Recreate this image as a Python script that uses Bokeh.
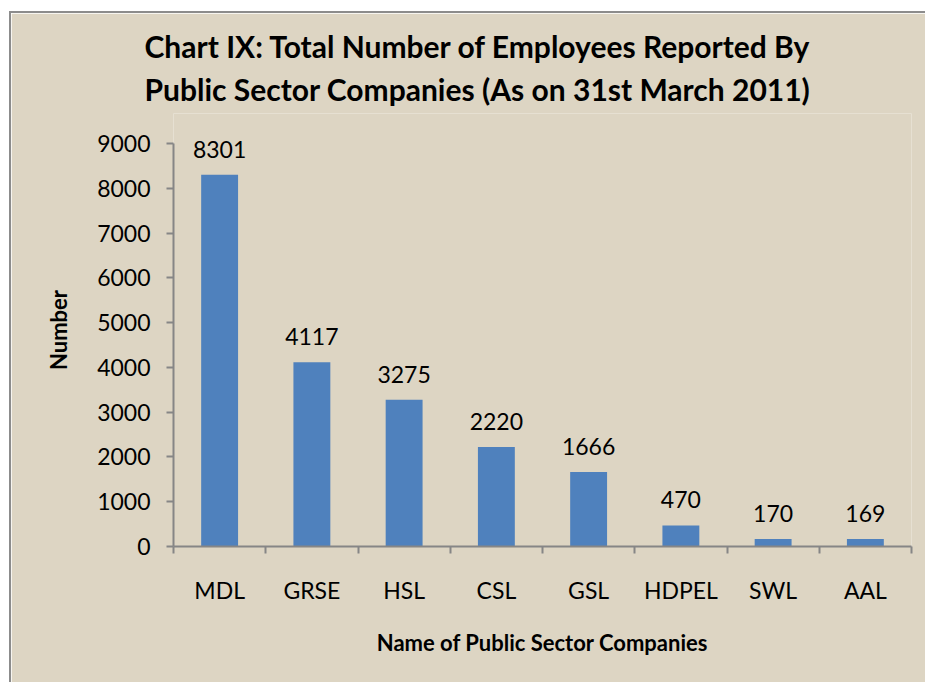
from bokeh.plotting import figure
from bokeh.models import ColumnDataSource, Range1d, FixedTicker, LabelSet, Title
from bokeh.core.properties import value
from bokeh.embed import file_html
from bokeh.resources import INLINE

companies = ["MDL", "GRSE", "HSL", "CSL", "GSL", "HDPEL", "SWL", "AAL"]
employees = [8301, 4117, 3275, 2220, 1666, 470, 170, 169]
y_ticks = [0, 1000, 2000, 3000, 4000, 5000, 6000, 7000, 8000, 9000]
title_lines = ["Chart IX: Total Number of Employees Reported By",
               "Public Sector Companies (As on 31st March 2011)"]

BG = "#DDD5C3"
AX = "#868686"
FONT = "Lato"

n = len(companies)
centers = [i + 0.5 for i in range(n)]
edges = list(range(n + 1))

# frame spans 433 px; the 9000 tick sits 30 px below the frame top (axis line bounded)
y_end = y_ticks[-1] * 433 / 403

src = ColumnDataSource(dict(x=centers, y=employees, label=[str(v) for v in employees]))

p = figure(width=916, height=671, x_range=Range1d(0, n), y_range=Range1d(0, y_end),
           output_backend="svg", toolbar_location=None,
           min_border_left=162, min_border_right=16, min_border_top=100, min_border_bottom=138,
           styles={"margin-left": "9px", "margin-top": "11px",
                   "border-left": "2px solid #8C8C8C", "border-top": "2px solid #8C8C8C"})
p.background_fill_color = BG
p.border_fill_color = BG
p.outline_line_color = None
p.xgrid.grid_line_color = None
p.ygrid.grid_line_color = None

p.vbar(x="x", top="y", width=0.4, source=src, fill_color="#4F81BD", line_color=None)

labels = LabelSet(x="x", y="y", text="label", source=src, y_offset=17, text_align="center",
                  text_baseline="alphabetic", text_font=value(FONT), text_font_size=value("23px"),
                  text_color="black")
p.add_layout(labels)

ya = p.yaxis[0]
ya.ticker = FixedTicker(ticks=y_ticks)
ya.bounds = (y_ticks[0], y_ticks[-1])
ya.axis_line_color = AX
ya.axis_line_width = 2
ya.major_tick_line_color = AX
ya.major_tick_line_width = 2
ya.major_tick_out = 7
ya.major_tick_in = 0
ya.minor_tick_line_color = None
ya.major_label_text_font = FONT
ya.major_label_text_font_size = "23px"
ya.major_label_text_color = "black"
ya.major_label_standoff = 16
ya.axis_label = "Number"
ya.axis_label_text_font = FONT
ya.axis_label_text_font_style = "bold"
ya.axis_label_text_font_size = "22px"
ya.axis_label_text_color = "black"
ya.axis_label_standoff = 22

xa = p.xaxis[0]
xa.ticker = FixedTicker(ticks=centers, minor_ticks=edges)
xa.major_label_overrides = {c: name for c, name in zip(centers, companies)}
xa.axis_line_color = AX
xa.axis_line_width = 2
xa.major_tick_line_color = None
xa.minor_tick_line_color = AX
xa.minor_tick_line_width = 2
xa.minor_tick_out = 7
xa.minor_tick_in = 0
xa.major_tick_out = 7
xa.major_tick_in = 0
xa.major_label_text_font = FONT
xa.major_label_text_font_size = "23px"
xa.major_label_text_color = "black"
xa.major_label_standoff = 22
xa.axis_label = "Name of Public Sector Companies"
xa.axis_label_text_font = FONT
xa.axis_label_text_font_style = "bold"
xa.axis_label_text_font_size = "22px"
xa.axis_label_text_color = "black"
xa.axis_label_standoff = 22

p.add_layout(Title(text="\n".join(title_lines), align="left", offset=-29, standoff=12,
                   text_line_height=1.2, text_font=FONT, text_font_style="bold",
                   text_font_size="30px", text_color="black"), "above")

open("out.html", "w").write(file_html(p, INLINE))
